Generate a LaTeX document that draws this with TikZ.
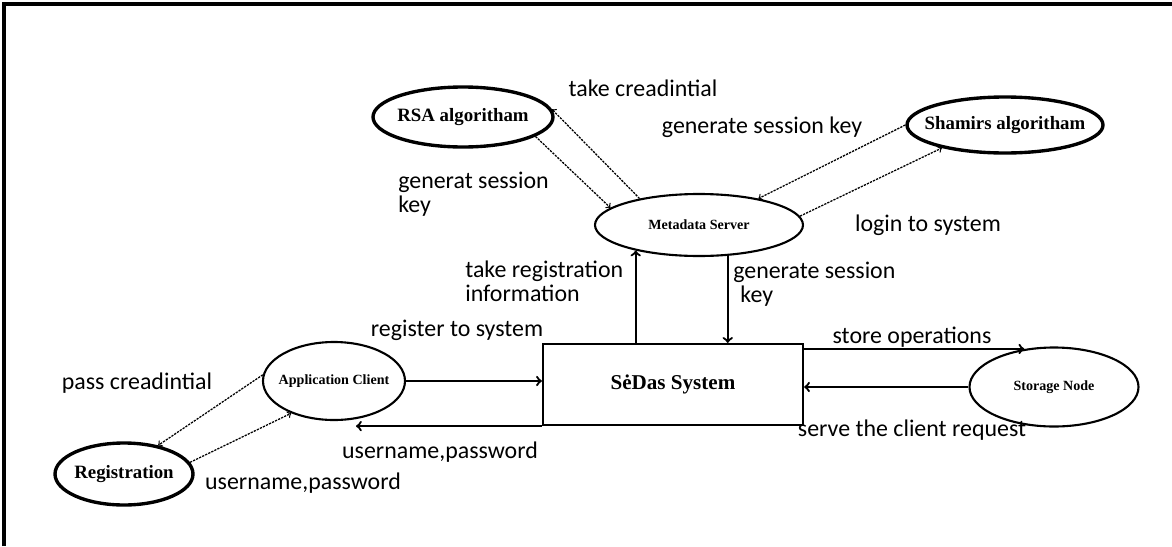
\documentclass[tikz,border=0pt]{standalone}
\usepackage{fontspec}
\setmainfont{Liberation Serif}
\newfontfamily\labelfont{Carlito}
\usetikzlibrary{shapes.geometric}

\begin{document}
\begin{tikzpicture}
\tikzstyle{entity} = [ellipse, draw=black, line width=2.4pt, inner xsep=-2pt, inner ysep=0pt, font=\bfseries\fontsize{13.4}{15}\selectfont]
\tikzstyle{process} = [ellipse, draw=black, line width=1.5pt, inner xsep=-4pt, inner ysep=0pt, font=\bfseries\fontsize{10}{12}\selectfont]
\tikzstyle{system} = [rectangle, draw=black, line width=1.6pt, minimum width=6.5cm, minimum height=2.025cm, font=\bfseries\fontsize{15}{18}\selectfont]
\tikzstyle{lbl} = [inner sep=0pt, font=\labelfont\fontsize{17}{17}\selectfont]
\tikzstyle{arrow} = [line width=1.6pt,->,>=to]
\tikzstyle{arrow2} = [dash pattern=on 1.6pt off 0.8pt, line width=0.9pt,->,>=to]
\useasboundingbox (0,0) rectangle (29.3,-13.65);
\draw[line width=2.2pt] (0.1,-13.65) -- (0.1,-0.1) -- (29.3,-0.1);
% ellipses and the system box
\node (rsa) [entity, minimum width=4.5cm, minimum height=1.5cm] at (11.575,-2.925) {RSA algoritham};
\node (shamir) [entity, inner xsep=-8pt, minimum width=4.9cm, minimum height=1.4cm] at (25.125,-3.125) {Shamirs algoritham};
\node (meta) [process, minimum width=5.2cm, minimum height=1.55cm] at (17.475,-5.625) {Metadata Server};
\node (sedas) [system] at (16.825,-9.6125) {S\.{e}Das System};
\node (storage) [process, minimum width=4.225cm, minimum height=1.975cm] at (26.35,-9.675) {Storage Node};
\node (appc) [process, minimum width=3.55cm, minimum height=1.95cm] at (8.35,-9.525) {Application Client};
\node (reg) [entity, minimum width=3.45cm, minimum height=1.55cm] at (3.1,-11.85) {Registration};
% labels
\node (lcred) [lbl] at (16.075,-2.2) {take creadintial};
\node (lgen1) [lbl, anchor=west, align=left] at (9.95,-4.85) {generat session\\key};
\node (lgen2) [lbl] at (19.05,-3.175) {generate session key};
\node (llogin) [lbl] at (23.2,-5.625) {login to system};
\node (lreginfo) [lbl, anchor=west, align=left] at (11.625,-7.025) {take registration\\information};
\node (lgen3) [lbl, anchor=west, align=left] at (18.325,-7.1) {generate session\\\hspace*{0.18cm}key};
\node (lregister) [lbl] at (11.425,-8.25) {register to system};
\node (luser1) [lbl] at (11,-11.3) {username,password};
\node (luser2) [lbl] at (7.575,-12.075) {username,password};
\node (lpass) [lbl] at (3.425,-9.575) {pass creadintial};
\node (lstore) [lbl] at (22.8,-8.425) {store operations};
\node (lserve) [lbl] at (22.8,-10.75) {serve the client request};
% connectors
\draw [arrow2] (meta.156) -- (rsa.5);
\draw [arrow2] (rsa.345) -- (meta.169);
\draw [arrow2] (shamir.west) -- (meta.24);
\draw [arrow2] (meta.5) -- (shamir.200);
\draw [arrow] (meta.202 |- sedas.north) -- (meta.202);
\draw [arrow] (meta.313) -- (meta.313 |- sedas.north);
\draw [arrow] (appc.east) -- (appc.east -| sedas.west);
\draw [arrow] (sedas.south west) -- (sedas.south west -| appc.300);
\draw [arrow2] (appc.175) -- (reg.40);
\draw [arrow2] (reg.10) -- (appc.217);
\draw [arrow] (storage.128 -| sedas.east) -- (storage.128);
\draw [arrow] (storage.west) -- (storage.west -| sedas.east);
\end{tikzpicture}
\end{document}
